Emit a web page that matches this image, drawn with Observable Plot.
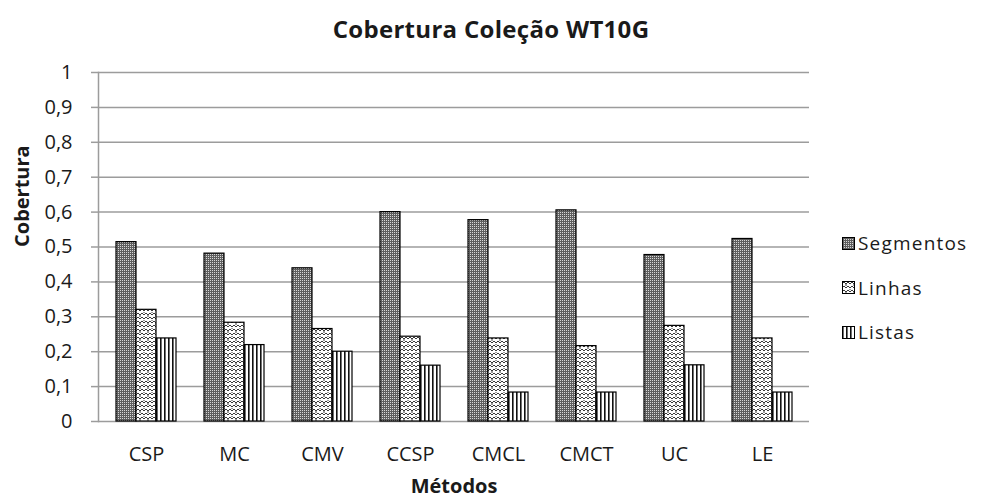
<!DOCTYPE html>
<html>
<head>
<meta charset="utf-8">
<script src="https://cdn.jsdelivr.net/npm/d3@7"></script>
<script src="https://cdn.jsdelivr.net/npm/@observablehq/plot@0.6"></script>
<style>
  body { margin: 0; background: #fff; }
  #wrap { position: relative; width: 982px; height: 501px; font-family: "Open Sans", sans-serif; color: #1a1a1a; }
  #title { position: absolute; left: 0; width: 982px; top: 12px; text-align: center; font-weight: bold; font-size: 24px; letter-spacing: 0.3px; line-height: 34px; }
  #legend { position: absolute; left: 842px; top: 231px; font-size: 19px; letter-spacing: 1.2px; }
  .item { display: flex; align-items: center; height: 24px; margin-bottom: 20.5px; }
  .item svg { margin-right: 3px; }
</style>
</head>
<body>
<div id="wrap">
  <div id="title">Cobertura Coleção WT10G</div>
  <div id="chart"></div>
  <div id="legend"></div>
</div>
<script>
const methods = ["CSP", "MC", "CMV", "CCSP", "CMCL", "CMCT", "UC", "LE"];
const seriesNames = ["Segmentos", "Linhas", "Listas"];
const segmentos = [0.514, 0.481, 0.439, 0.600, 0.577, 0.605, 0.477, 0.523];
const linhas    = [0.320, 0.283, 0.265, 0.243, 0.238, 0.216, 0.274, 0.238];
const listas    = [0.238, 0.219, 0.200, 0.160, 0.083, 0.083, 0.161, 0.083];
const yTicks = [0, 0.1, 0.2, 0.3, 0.4, 0.5, 0.6, 0.7, 0.8, 0.9, 1];

const rows = (vals) => methods.map((m, i) => ({method: m, value: vals[i]}));
const fills = ["url(#pSeg)", "url(#pLin)", "url(#pLis)"];
const offsets = [-20, 0, 20];
const seriesVals = [segmentos, linhas, listas];

const fmt = d => String(d).replace(".", ",");

const chart = Plot.plot({
  width: 982,
  height: 501,
  marginLeft: 98,
  marginRight: 173,
  marginTop: 72,
  marginBottom: 80,
  style: {fontFamily: "'Open Sans', sans-serif", fontSize: "20px", color: "#1a1a1a", background: "#fff"},
  x: {domain: methods, paddingInner: 0.775, paddingOuter: 0.3875, axis: null},
  y: {domain: [0, 1], axis: null},
  marks: [
    Plot.gridY(yTicks, {stroke: "#9c9c9c", strokeOpacity: 1, strokeWidth: 1.5}),
    Plot.frame({anchor: "left", stroke: "#9c9c9c", strokeWidth: 1.5}),
    Plot.axisY(yTicks, {tickSize: 7, tickPadding: 19, tickFormat: fmt, stroke: "#9c9c9c", strokeWidth: 1.5, label: null, fontSize: 20, letterSpacing: 0.8}),
    ...seriesVals.map((vals, k) => Plot.barY(rows(vals), {
      x: "method", y: "value", fill: fills[k], stroke: "#000", strokeWidth: 1.2, dx: offsets[k]
    })),
    Plot.axisX({tickSize: 0, tickPadding: 25, label: null, fontSize: 20, letterSpacing: 0.4}),
    Plot.text(["Cobertura"], {frameAnchor: "left", text: d => d, rotate: -90, dx: -76, fontWeight: "bold", fontSize: 20}),
    Plot.text(["Métodos"], {frameAnchor: "bottom", text: d => d, dy: 71, fontWeight: "bold", fontSize: 20})
  ]
});

// pattern definitions
const svgNS = "http://www.w3.org/2000/svg";
const defsHTML = `
<pattern id="pSeg" patternUnits="userSpaceOnUse" width="2" height="2">
  <rect width="2" height="2" fill="#5e5e5e"/>
  <rect x="0" y="0" width="1" height="1" fill="#d8d8d8"/>
</pattern>
<pattern id="pLin" patternUnits="userSpaceOnUse" width="8" height="8">
  <rect width="8" height="8" fill="#fff"/>
  <path d="M0,3 L2,1 L4,3 L6,1 L8,3 M0,7 L2,5 L4,7 L6,5 L8,7 M4,3 L4,5 M0,-1 L0,1 M8,-1 L8,1" stroke="#3a3a3a" stroke-width="1" fill="none"/>
</pattern>
<pattern id="pLis" patternUnits="userSpaceOnUse" width="4" height="4">
  <rect width="4" height="4" fill="#fff"/>
  <rect x="0" y="0" width="1.6" height="4" fill="#111"/>
</pattern>`;
const defs = document.createElementNS(svgNS, "defs");
defs.innerHTML = defsHTML;
chart.insertBefore(defs, chart.firstChild);
document.getElementById("chart").appendChild(chart);

// legend
const legend = document.getElementById("legend");
seriesNames.forEach((name, k) => {
  const item = document.createElement("div");
  item.className = "item";
  item.innerHTML = `<svg width="13" height="13"><rect x="0.5" y="0.5" width="12" height="12" fill="${fills[k]}" stroke="#000" stroke-width="1"/></svg><span>${name}</span>`;
  legend.appendChild(item);
});
</script>
</body>
</html>
